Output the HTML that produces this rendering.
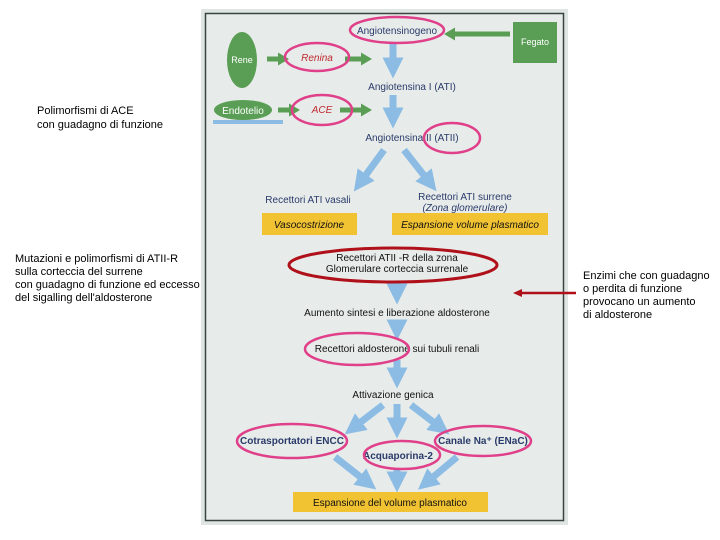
<!DOCTYPE html>
<html><head><meta charset="utf-8"><style>
html,body{margin:0;padding:0;background:#fff;width:720px;height:540px;overflow:hidden}
svg{display:block;font-family:"Liberation Sans",sans-serif}
</style></head><body>
<svg width="720" height="540" viewBox="0 0 720 540">
<defs>
<marker id="bh" markerWidth="3" markerHeight="3" refX="1.5" refY="1.5" orient="auto" markerUnits="strokeWidth"><path d="M0,0 L3,1.5 L0,3 z" fill="#8cbce4"/></marker>
<marker id="gh" markerWidth="2.2" markerHeight="2.6" refX="1" refY="1.3" orient="auto" markerUnits="strokeWidth"><path d="M0,0 L2.2,1.3 L0,2.6 z" fill="#5a9e55"/></marker>
</defs>
<!-- panel -->
<rect x="201" y="9" width="367" height="516" fill="#dfe5e2"/>
<rect x="205.5" y="13.5" width="358" height="507" fill="#e7ecea" stroke="#3a4340" stroke-width="1.5"/>
<!-- text left -->
<g font-size="11" fill="#000">
<text x="37" y="114">Polimorfismi di ACE</text>
<text x="37" y="128">con guadagno di funzione</text>
<text x="15" y="262">Mutazioni e polimorfismi di ATII-R</text>
<text x="15" y="275">sulla corteccia del surrene</text>
<text x="15" y="288">con guadagno di funzione ed eccesso</text>
<text x="15" y="301">del sigalling dell'aldosterone</text>
<text x="583" y="279">Enzimi che con guadagno</text>
<text x="583" y="292"> o perdita di funzione</text>
<text x="583" y="305">provocano un aumento</text>
<text x="583" y="318">di aldosterone</text>
</g>
<!-- red arrow -->
<line x1="576" y1="293" x2="520" y2="293" stroke="#b0101a" stroke-width="2.5"/>
<path d="M513,293 L522,289 L522,297 z" fill="#b0101a"/>
<!-- green shapes -->
<rect x="513" y="22" width="44" height="41" fill="#5a9e55"/>
<text x="535" y="45" font-size="9" fill="#fff" text-anchor="middle">Fegato</text>
<ellipse cx="242" cy="60" rx="15" ry="28" fill="#5a9e55"/>
<text x="242" y="63" font-size="9" fill="#fff" text-anchor="middle">Rene</text>
<ellipse cx="243" cy="110" rx="29" ry="10" fill="#5a9e55"/>
<text x="243" y="114" font-size="10" fill="#fff" text-anchor="middle">Endotelio</text>
<rect x="213" y="120" width="70" height="4" fill="#8cbce4"/>
<!-- green arrows -->
<g stroke="#5a9e55" stroke-width="5" marker-end="url(#gh)">
<line x1="510" y1="34" x2="450" y2="34"/>
<line x1="267" y1="59" x2="283" y2="59"/>
<line x1="345" y1="59" x2="366" y2="59"/>
<line x1="278" y1="110" x2="294" y2="110"/>
<line x1="340" y1="110" x2="366" y2="110"/>
</g>
<!-- blue arrows -->
<g stroke="#8cbce4" stroke-width="7" marker-end="url(#bh)">
<line x1="393" y1="42" x2="393" y2="68"/>
<line x1="393" y1="95" x2="393" y2="118"/>
<line x1="384" y1="150" x2="360" y2="183"/>
<line x1="404" y1="150" x2="430" y2="183"/>
<line x1="397" y1="282" x2="397" y2="294"/>
<line x1="397" y1="322" x2="397" y2="330"/>
<line x1="397" y1="360" x2="397" y2="378"/>
<line x1="383" y1="405" x2="353" y2="428"/>
<line x1="397" y1="404" x2="397" y2="428"/>
<line x1="411" y1="405" x2="441" y2="428"/>
<line x1="335" y1="457" x2="368" y2="483"/>
<line x1="397" y1="468" x2="397" y2="482"/>
<line x1="457" y1="457" x2="426" y2="483"/>
</g>
<!-- texts -->
<g font-size="10" fill="#2a3a6a" text-anchor="middle">
<text x="397" y="34">Angiotensinogeno</text>
<text x="412" y="90">Angiotensina   I (ATI)</text>
<text x="412" y="141">Angiotensina   II (ATII)</text>
<text x="308" y="203">Recettori ATI vasali</text>
<text x="465" y="200">Recettori ATI surrene</text>
<text x="465" y="211" font-style="italic">(Zona glomerulare)</text>
</g>
<text x="317" y="61" font-size="10" fill="#c0282f" font-style="italic" text-anchor="middle">Renina</text>
<text x="322" y="113" font-size="10" fill="#c0282f" font-style="italic" text-anchor="middle">ACE</text>
<rect x="262" y="213" width="95" height="22" fill="#f1c232"/>
<rect x="392" y="213" width="156" height="22" fill="#f1c232"/>
<g font-size="10" fill="#111" font-style="italic" text-anchor="middle">
<text x="309" y="228">Vasocostrizione</text>
<text x="470" y="228">Espansione volume plasmatico</text>
</g>
<g font-size="10" fill="#111" text-anchor="middle">
<text x="397" y="261">Recettori ATII -R della zona</text>
<text x="397" y="272">Glomerulare corteccia surrenale</text>
<text x="397" y="316">Aumento sintesi e liberazione aldosterone</text>
<text x="397" y="352">Recettori aldosterone sui tubuli renali</text>
<text x="393" y="398">Attivazione genica</text>
</g>
<g font-size="10" fill="#2a3a6a" font-weight="bold" text-anchor="middle">
<text x="292" y="444">Cotrasportatori ENCC</text>
<text x="398" y="459">Acquaporina-2</text>
<text x="483" y="444">Canale Na⁺ (ENaC)</text>
</g>
<rect x="293" y="492" width="195" height="20" fill="#f1c232"/>
<text x="390" y="506" font-size="10" fill="#111" text-anchor="middle">Espansione del volume plasmatico</text>
<!-- ellipses -->
<g fill="none" stroke="#e0408a" stroke-width="2.5">
<ellipse cx="397" cy="30" rx="47" ry="13"/>
<ellipse cx="317" cy="57" rx="32" ry="14"/>
<ellipse cx="322" cy="110" rx="30" ry="15"/>
<ellipse cx="452" cy="138" rx="28" ry="15"/>
<ellipse cx="357" cy="349" rx="52" ry="16"/>
<ellipse cx="292" cy="441" rx="55" ry="17"/>
<ellipse cx="402" cy="455" rx="38" ry="14"/>
<ellipse cx="483" cy="441" rx="48" ry="15"/>
</g>
<ellipse cx="393" cy="265" rx="104" ry="17" fill="none" stroke="#b0101a" stroke-width="3"/>
</svg>
</body></html>
